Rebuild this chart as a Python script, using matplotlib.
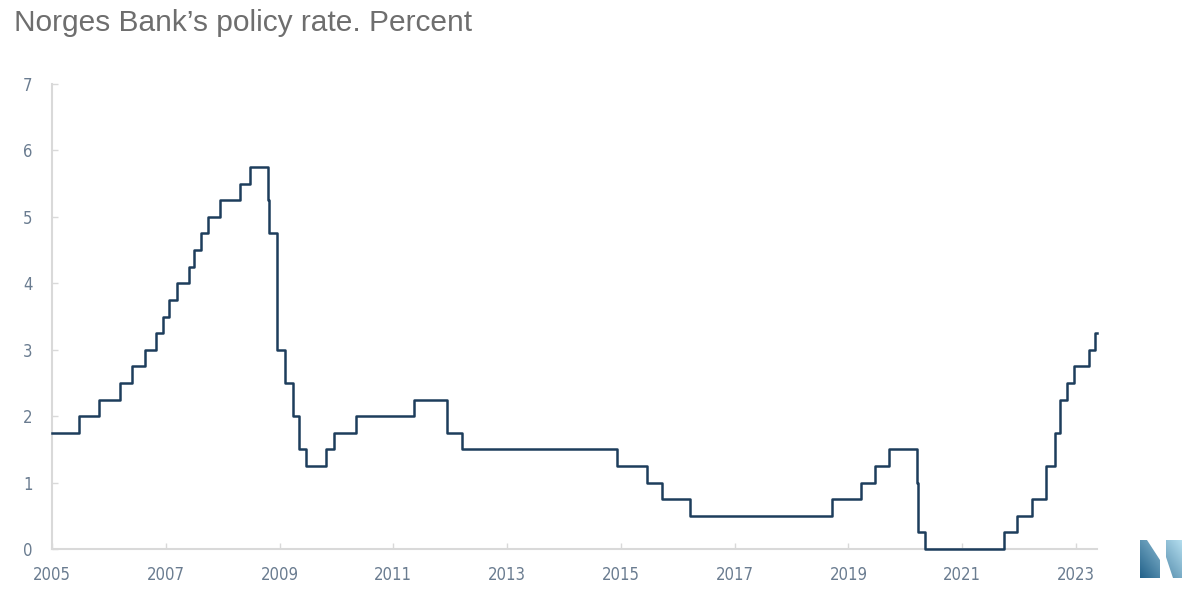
import numpy as np
import matplotlib
matplotlib.use("Agg")
import matplotlib.pyplot as plt
from matplotlib.patches import Polygon

# Rate decisions (decimal year, new rate in percent)
dates = [2005.00, 2005.48, 2005.83, 2006.20, 2006.41, 2006.63, 2006.83, 2006.95,
         2007.06, 2007.20, 2007.41, 2007.49, 2007.62, 2007.74, 2007.95, 2008.31,
         2008.48, 2008.79, 2008.82, 2008.96, 2009.09, 2009.23, 2009.35, 2009.46,
         2009.82, 2009.96, 2010.34, 2011.36, 2011.95, 2012.20, 2014.94, 2015.46,
         2015.73, 2016.21, 2018.72, 2019.22, 2019.47, 2019.72, 2020.20, 2020.22,
         2020.35, 2021.73, 2021.96, 2022.23, 2022.48, 2022.63, 2022.72, 2022.84,
         2022.96, 2023.23, 2023.34, 2023.37]
rates = [1.75, 2.00, 2.25, 2.50, 2.75, 3.00, 3.25, 3.50,
         3.75, 4.00, 4.25, 4.50, 4.75, 5.00, 5.25, 5.50,
         5.75, 5.25, 4.75, 3.00, 2.50, 2.00, 1.50, 1.25,
         1.50, 1.75, 2.00, 2.25, 1.75, 1.50, 1.25, 1.00,
         0.75, 0.50, 0.75, 1.00, 1.25, 1.50, 1.00, 0.25,
         0.00, 0.25, 0.50, 0.75, 1.25, 1.75, 2.25, 2.50,
         2.75, 3.00, 3.25, 3.25]

xticks = [2005, 2007, 2009, 2011, 2013, 2015, 2017, 2019, 2021, 2023]
yticks = [0, 1, 2, 3, 4, 5, 6, 7]

tick_col = '#6a7c90'
spine_col = '#d9d9d9'

fig = plt.figure(figsize=(12, 6), dpi=100)
ax = fig.add_axes([52/1200, 1 - 549/600, 1045/1200, 465/600])

ax.step(dates, rates, where='post', color='#1d3d5c', lw=1.8, clip_on=False, zorder=5)

ax.set_xlim(2005, 2023.37)
ax.set_ylim(0, 7)
ax.set_xticks(xticks)
ax.set_yticks(yticks)
ax.set_xticklabels([str(t) for t in xticks], fontsize=12, color=tick_col,
                   fontstretch='condensed')
ax.set_yticklabels([str(t) for t in yticks], fontsize=12, color=tick_col,
                   fontstretch='condensed')
ax.tick_params(axis='both', direction='in', length=4, width=1, color=spine_col)
ax.tick_params(axis='y', pad=14)
ax.tick_params(axis='x', pad=12)

for s in ['top', 'right']:
    ax.spines[s].set_visible(False)
for s in ['left', 'bottom']:
    ax.spines[s].set_color(spine_col)
    ax.spines[s].set_linewidth(1.5)

fig.text(14/1200, 1 - 31/600, 'Norges Bank\u2019s policy rate. Percent',
         family=['Liberation Sans', 'DejaVu Sans'], fontsize=21.5, color='#6e6e6e')

# logo in the corner
lax = fig.add_axes([1140/1200, 1 - 578/600, 42/1200, 38/600])
lax.set_xlim(0, 42)
lax.set_ylim(0, 38)
lax.axis('off')
gx, gy = np.meshgrid(np.linspace(0, 1, 64), np.linspace(0, 1, 64))
grad = 0.6 * gx + 0.4 * gy
cmap = matplotlib.colors.LinearSegmentedColormap.from_list('logo', ['#23628a', '#b3ddee'])
left_piece = Polygon([(0, 38), (7, 38), (20, 18), (20, 0), (0, 0)], closed=True,
                     facecolor='none', edgecolor='none')
right_piece = Polygon([(26, 38), (42, 38), (42, 0), (33, 0), (26, 21)], closed=True,
                      facecolor='none', edgecolor='none')
for piece in [left_piece, right_piece]:
    lax.add_patch(piece)
    im = lax.imshow(grad, extent=[0, 42, 0, 38], cmap=cmap, aspect='auto',
                    vmin=0, vmax=1, origin='lower')
    im.set_clip_path(piece)

fig.savefig('out.png', dpi=100)
